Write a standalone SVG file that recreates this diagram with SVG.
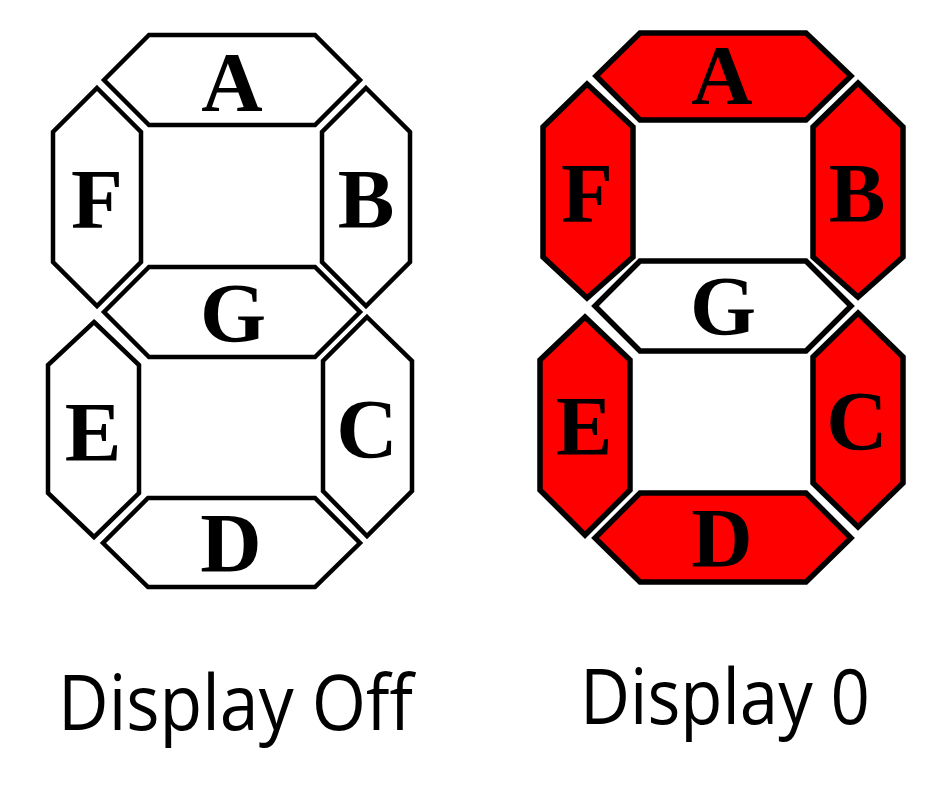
<svg xmlns="http://www.w3.org/2000/svg" width="940" height="797" viewBox="0 0 940 797">
<style>
.seg{stroke:#000;stroke-linejoin:miter;}
.off{fill:#fff;stroke-width:4.5;}
.on{fill:#f00;stroke-width:5.5;}
.onw{fill:#fff;stroke-width:5.5;}
.lt{font-family:"Liberation Serif","Times New Roman",serif;font-weight:bold;font-size:85px;text-anchor:middle;fill:#000;}
.cap{font-family:"Open Sans","Noto Sans","Liberation Sans",sans-serif;font-size:77px;fill:#000;}
</style>
<rect width="940" height="797" fill="#fff"/>
<g id="display-off">
<g id="off-A"><polygon class="seg off" points="149,35 315,35 360,80 315,125 149,125 104,80"/><text class="lt" x="232" y="111">A</text></g>
<g id="off-F"><polygon class="seg off" points="97,88 141,132 141,262 97,306 53,262 53,132"/><text class="lt" x="97" y="228">F</text></g>
<g id="off-B"><polygon class="seg off" points="366,88 410,132 410,262 366,306 322,262 322,132"/><text class="lt" x="366" y="228">B</text></g>
<g id="off-G"><polygon class="seg off" points="149,267 315,267 360,312 315,357 149,357 104,312"/><text class="lt" x="233" y="342">G</text></g>
<g id="off-E"><polygon class="seg off" points="94,322 139,365 139,493 94,537 48,493 48,365"/><text class="lt" x="93" y="461">E</text></g>
<g id="off-C"><polygon class="seg off" points="367,317 412,361 412,491 367,536 323,491 323,361"/><text class="lt" x="367" y="458">C</text></g>
<g id="off-D"><polygon class="seg off" points="148,498 315,498 360,543 315,587 148,587 103,543"/><text class="lt" x="231" y="572">D</text></g>
</g>
<g id="display-0">
<g id="on-A"><polygon class="seg on" points="640,33 806,33 851,76 806,120 640,120 596,76"/><text class="lt" x="722" y="104">A</text></g>
<g id="on-F"><polygon class="seg on" points="587,84 633,127 633,257 587,298 543,257 543,127"/><text class="lt" x="587" y="222">F</text></g>
<g id="on-B"><polygon class="seg on" points="858,83 903,127 903,257 858,297 813,257 813,127"/><text class="lt" x="857" y="222">B</text></g>
<g id="on-G"><polygon class="seg onw" points="640,261 806,261 851,306 806,351 640,351 595,306"/><text class="lt" x="723" y="335">G</text></g>
<g id="on-E"><polygon class="seg on" points="585,317 630,360 630,490 585,535 540,490 540,360"/><text class="lt" x="584" y="455">E</text></g>
<g id="on-C"><polygon class="seg on" points="858,313 903,357 903,483 858,527 813,483 813,357"/><text class="lt" x="857" y="450">C</text></g>
<g id="on-D"><polygon class="seg on" points="640,493 806,493 851,538 806,582 640,582 595,538"/><text class="lt" x="722" y="567">D</text></g>
</g>
<g id="connectors"/>
<text class="cap" x="58" y="730" textLength="355" lengthAdjust="spacingAndGlyphs">Display Off</text>
<text class="cap" x="580" y="724" textLength="290" lengthAdjust="spacingAndGlyphs">Display 0</text>
</svg>
